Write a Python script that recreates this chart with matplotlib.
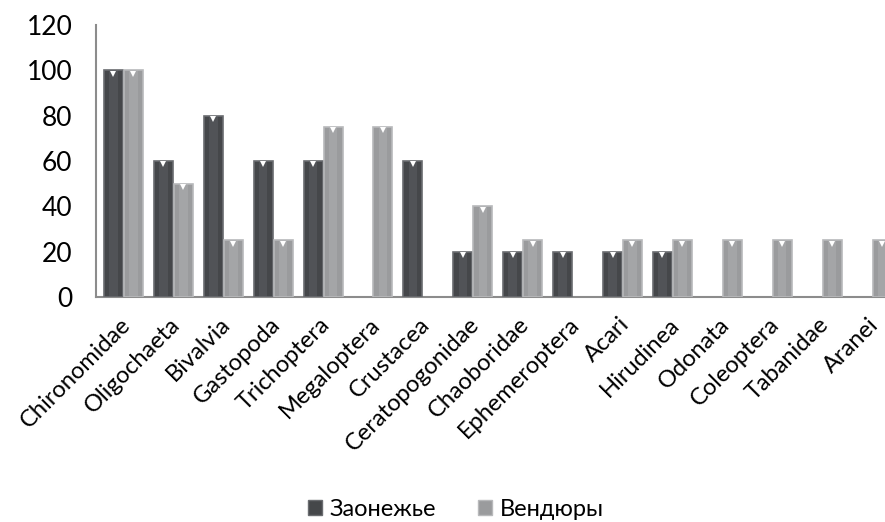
import numpy as np
import matplotlib
matplotlib.use('Agg')
import matplotlib.pyplot as plt
from matplotlib.patches import Patch
from matplotlib.transforms import ScaledTranslation

plt.rcParams['font.family'] = ['Lato', 'Open Sans', 'DejaVu Sans']

categories = ['Chironomidae', 'Oligochaeta', 'Bivalvia', 'Gastopoda', 'Trichoptera',
              'Megaloptera', 'Crustacea', 'Ceratopogonidae', 'Chaoboridae', 'Ephemeroptera',
              'Acari', 'Hirudinea', 'Odonata', 'Coleoptera', 'Tabanidae', 'Aranei']
zaonezhye = [100, 60, 80, 60, 60, 0, 60, 20, 20, 20, 20, 20, 0, 0, 0, 0]
vendyury = [100, 50, 25, 25, 75, 75, 0, 40, 25, 0, 25, 25, 25, 25, 25, 25]
seriesNames = ['Заонежье', 'Вендюры']

darkColor = '#45474a'
lightColor = '#9a9b9d'

fig = plt.figure(figsize=(8.85, 5.22), dpi=100)
ax = fig.add_axes([0.1085, 0.431, 0.8915, 0.521])

x = np.arange(len(categories))
w = 0.38
off = 0.2

for vals, dx, col, edge in [(zaonezhye, -off, darkColor, '#6a6c70'),
                            (vendyury, off, lightColor, '#b8b9bb')]:
    vals = np.array(vals)
    nz = vals > 0
    ax.bar(x[nz] + dx, vals[nz], w, color=col, edgecolor=edge, linewidth=1.2, zorder=3)
    # inner highlight to mimic the bevelled look
    ax.bar(x[nz] + dx, vals[nz], w * 0.45, color=edge, alpha=0.35, linewidth=0, zorder=3)
    ax.plot(x[nz] + dx, vals[nz] - 1.5, linestyle='none', marker='v', markersize=5,
            color='white', markeredgewidth=0, zorder=4)

ax.set_xlim(-0.55, 15.26)
ax.set_ylim(0, 120)
ax.set_yticks(range(0, 121, 20))
ax.set_xticks(x)
ax.set_xticklabels(categories, rotation=45, ha='right', va='top',
                   rotation_mode='anchor', fontsize=17)
ax.tick_params(axis='y', labelsize=19, length=0, pad=17)
ax.tick_params(axis='x', length=0, pad=12)
shift = ScaledTranslation(-4 / 100, 0, fig.dpi_scale_trans)
for lbl in ax.get_xticklabels():
    lbl.set_transform(lbl.get_transform() + shift)

for s in ['top', 'right']:
    ax.spines[s].set_visible(False)
ax.spines['left'].set_color('#8c8c8c')
ax.spines['bottom'].set_color('#8c8c8c')
ax.spines['left'].set_linewidth(1.5)
ax.spines['bottom'].set_linewidth(1.5)

handles = [Patch(facecolor=darkColor, edgecolor='#6a6c70'),
           Patch(facecolor=lightColor, edgecolor='#b8b9bb')]
fig.legend(handles, seriesNames, loc='center', bbox_to_anchor=(0.515, 0.024), ncol=2,
           frameon=False, fontsize=17, handlelength=0.6, handleheight=0.6,
           handletextpad=0.3, columnspacing=1.8)

fig.savefig('out.png', dpi=100)
